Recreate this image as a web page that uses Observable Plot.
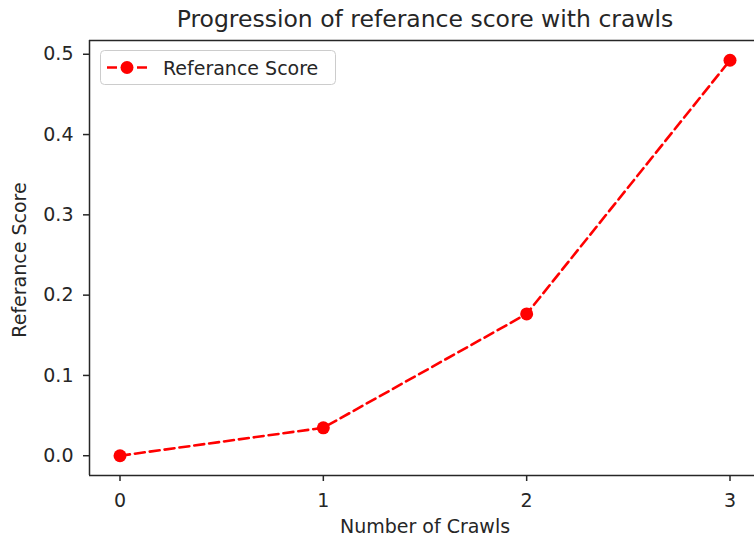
<!DOCTYPE html>
<html>
<head>
<meta charset="utf-8">
<script src="https://cdn.jsdelivr.net/npm/d3@7"></script>
<script src="https://cdn.jsdelivr.net/npm/@observablehq/plot@0.6"></script>
<style>
  html, body { margin: 0; padding: 0; background: #fff; }
  #wrap { position: relative; width: 754px; height: 542px; overflow: hidden; }
  #legend { position: absolute; left: 100px; top: 50px; }
</style>
</head>
<body>
<div id="wrap"></div>
<script>
const crawls = [0, 1, 2, 3];
const scores = [0.0, 0.0348, 0.1766, 0.4925];
const xTicks = [0, 1, 2, 3];
const yTicks = [0.0, 0.1, 0.2, 0.3, 0.4, 0.5];
const seriesName = "Referance Score";
const title = "Progression of referance score with crawls";
const xLabel = "Number of Crawls";
const yLabel = "Referance Score";

const data = crawls.map((c, i) => ({crawl: c, score: scores[i]}));

const xMin = d3.min(crawls), xMax = d3.max(crawls);
const xPad = (xMax - xMin) * 0.05;
const yMin = d3.min(scores), yMax = d3.max(scores);
const yPad = (yMax - yMin) * 0.05;
const xDom = [xMin - xPad, xMax + xPad];
const yDom = [yMin - yPad, yMax + yPad];

const red = "#ff0000";
const ink = "#262626";
const font = "DejaVu Sans, sans-serif";
const tickFont = 19;

const chart = Plot.plot({
  width: 754,
  height: 542,
  marginTop: 40,
  marginBottom: 67,
  marginLeft: 89,
  marginRight: 0,
  style: {fontFamily: font, color: ink, background: "#fff", overflow: "visible"},
  x: {domain: xDom, range: [89, 760]},
  y: {domain: yDom, range: [475, 40]},
  marks: [
    Plot.axisX(xTicks, {tickFormat: d3.format("d"), tickSize: 6, tickPadding: 12, fontSize: tickFont, label: null, strokeWidth: 1.5, stroke: ink, fill: ink}),
    Plot.axisY(yTicks, {tickFormat: d3.format(".1f"), tickSize: 6, tickPadding: 10, fontSize: tickFont, label: null, strokeWidth: 1.5, stroke: ink, fill: ink}),
    Plot.ruleX([xDom[0]], {stroke: ink, strokeWidth: 1.5}),
    Plot.ruleY([yDom[0]], {stroke: ink, strokeWidth: 1.5}),
    Plot.ruleY([yDom[1]], {stroke: ink, strokeWidth: 1.5}),
    Plot.line(data, {x: "crawl", y: "score", stroke: red, strokeWidth: 2.6, strokeDasharray: "10,5"}),
    Plot.dot(data, {x: "crawl", y: "score", r: 6.5, fill: red, stroke: "none"}),
    Plot.text([title], {frameAnchor: "top", text: d => d, dx: 3, dy: -30, lineAnchor: "top", fontSize: 23.5, fill: ink}),
    Plot.text([xLabel], {frameAnchor: "bottom", text: d => d, dx: 3, dy: 44, lineAnchor: "top", fontSize: tickFont, fill: ink}),
    Plot.text([yLabel], {frameAnchor: "left", text: d => d, textAnchor: "middle", lineAnchor: "top", dx: -77, dy: 2, rotate: -90, fontSize: tickFont, fill: ink})
  ]
});
const wrap = document.getElementById("wrap");
wrap.appendChild(chart);

const legend = document.createElement("div");
legend.id = "legend";
legend.innerHTML = `<svg width="237" height="36" style="display:block">
  <rect x="0.5" y="0.5" width="235" height="34" rx="4" fill="rgba(255,255,255,0.8)" stroke="#cccccc" stroke-width="1"></rect>
  <line x1="7" x2="47" y1="17.5" y2="17.5" stroke="${red}" stroke-width="2.6" stroke-dasharray="10,5"></line>
  <circle cx="27" cy="17.5" r="6.5" fill="${red}"></circle>
  <text x="63" y="25" font-family="${font}" font-size="${tickFont}" fill="${ink}"></text>
</svg>`;
legend.querySelector("text").textContent = seriesName;
wrap.appendChild(legend);
</script>
</body>
</html>
